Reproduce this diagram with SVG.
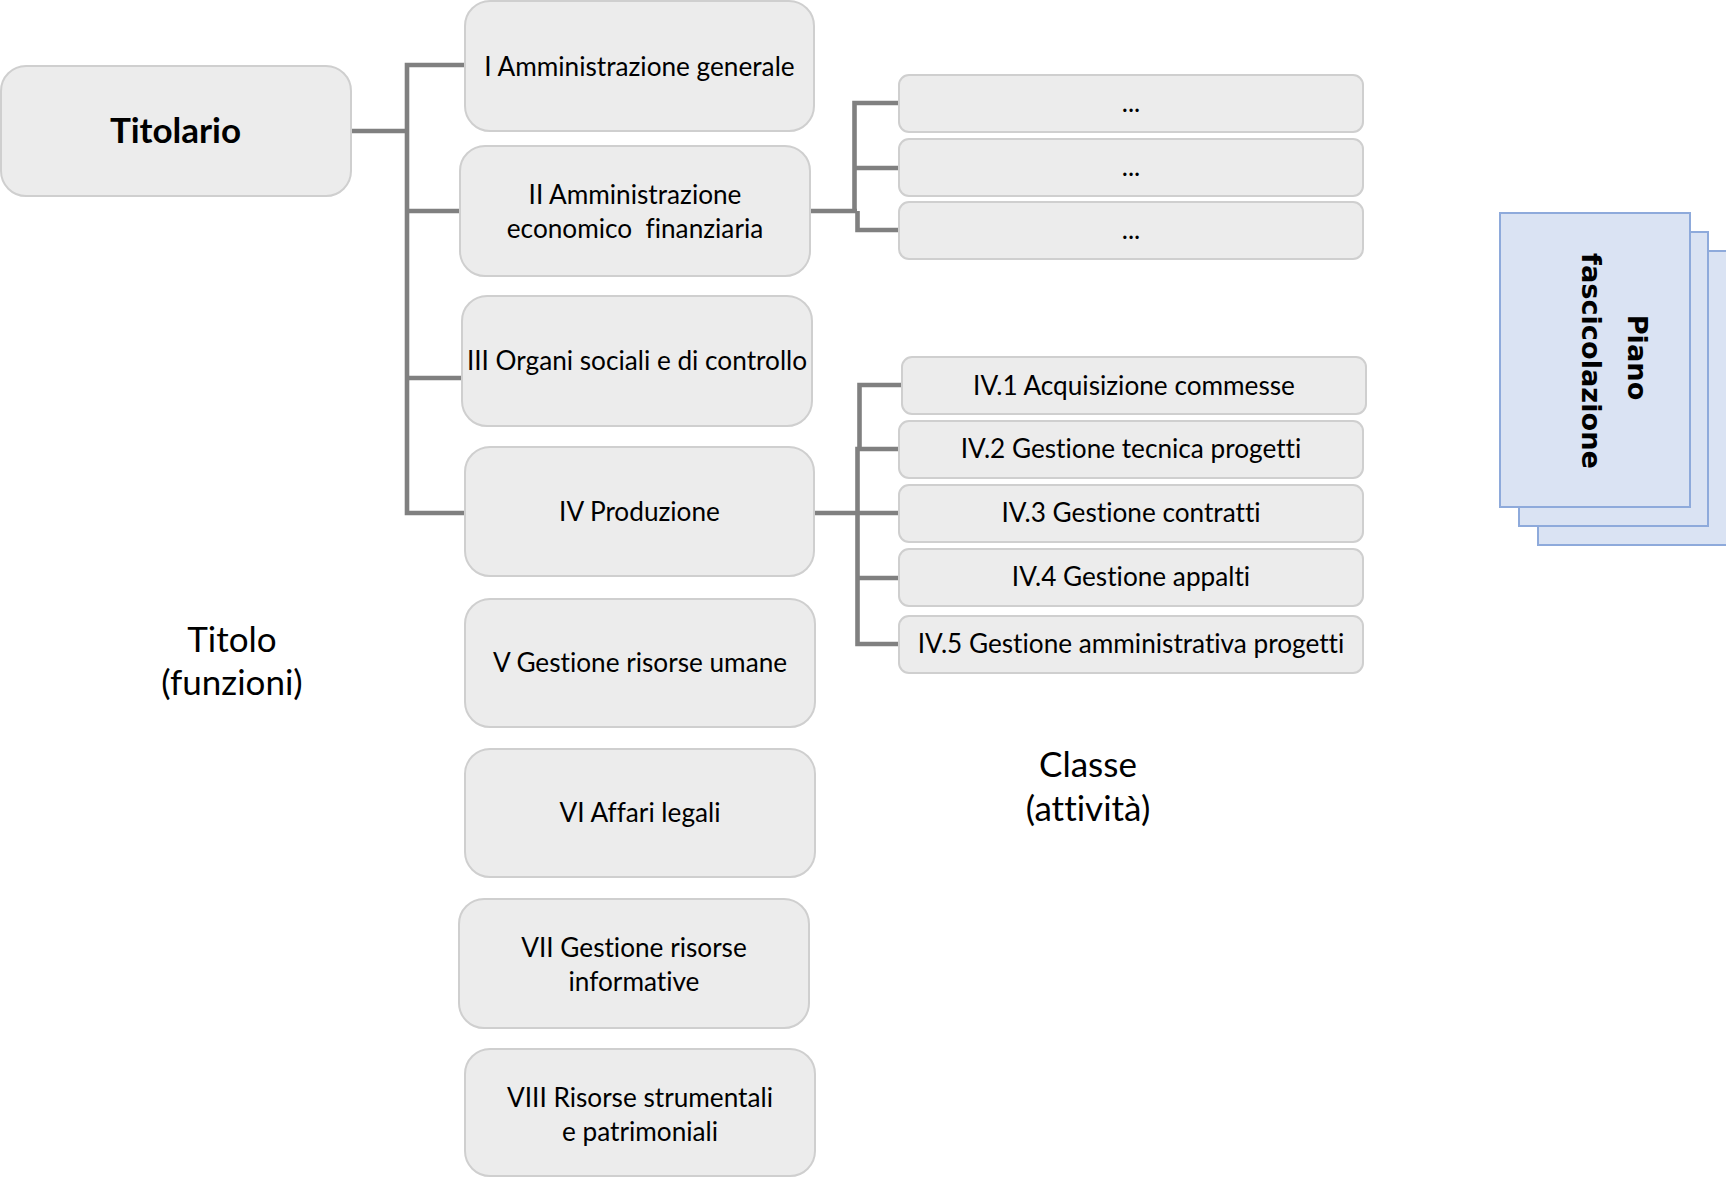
<svg xmlns="http://www.w3.org/2000/svg" width="1726" height="1177" viewBox="0 0 1726 1177">
<style>
text{font-variant-ligatures:none;font-feature-settings:"liga" 0,"clig" 0}
.box{fill:#ececec;stroke:#cfcfcf;stroke-width:2}
.t{font-family:Lato,"Open Sans","DejaVu Sans",sans-serif;font-size:26.2px;fill:#000;text-anchor:middle}
.big{font-family:Lato,"Open Sans","DejaVu Sans",sans-serif;font-size:35px;fill:#000;text-anchor:middle}
.bold{font-weight:bold}
.conn{fill:none;stroke:#808080;stroke-width:4.6}
.sheet{fill:#dae3f3;stroke:#8eaadb;stroke-width:2}
.pf{font-family:"DejaVu Sans",Verdana,sans-serif;font-size:27.2px;font-weight:bold;fill:#000;text-anchor:middle}
</style>
<rect width="1726" height="1177" fill="#fff"/>
<g id="connectors">
<path class="conn" d="M351,131 H407"/>
<path class="conn" d="M465,65 H407 V513 H465"/>
<path class="conn" d="M407,211 H460"/>
<path class="conn" d="M407,378 H462"/>
<path class="conn" d="M810,211 H857"/>
<path class="conn" d="M899,103 H854.5 V211"/>
<path class="conn" d="M854.5,168 H899"/>
<path class="conn" d="M857.5,211 V230 H899"/>
<path class="conn" d="M815,513 H858"/>
<path class="conn" d="M902,385 H859.5 V449"/>
<path class="conn" d="M899,449 H857.5 V644 H899"/>
<path class="conn" d="M857.5,513 H899"/>
<path class="conn" d="M857.5,578 H899"/>
</g>
<g id="titolario">
<rect class="box" x="1" y="66" width="350" height="130" rx="25"/>
<text class="big bold" x="175.5" y="143">Titolario</text>
</g>
<g id="t1">
<rect class="box" x="465" y="1" width="349" height="130" rx="25"/>
<text class="t" x="639.5" y="75.5">I Amministrazione generale</text>
</g>
<g id="t2">
<rect class="box" x="460" y="146" width="350" height="130" rx="25"/>
<text class="t" x="635" y="204">II Amministrazione</text>
<text class="t" x="635" y="238" xml:space="preserve">economico  finanziaria</text>
</g>
<g id="t3">
<rect class="box" x="462" y="296" width="350" height="130" rx="25"/>
<text class="t" x="637" y="370">III Organi sociali e di controllo</text>
</g>
<g id="t4">
<rect class="box" x="465" y="447" width="349" height="129" rx="25"/>
<text class="t" x="639.5" y="520.5">IV Produzione</text>
</g>
<g id="t5">
<rect class="box" x="465" y="599" width="350" height="128" rx="25"/>
<text class="t" x="640" y="672">V Gestione risorse umane</text>
</g>
<g id="t6">
<rect class="box" x="465" y="749" width="350" height="128" rx="25"/>
<text class="t" x="640" y="822">VI Affari legali</text>
</g>
<g id="t7">
<rect class="box" x="459" y="899" width="350" height="129" rx="25"/>
<text class="t" x="634" y="957">VII Gestione risorse</text>
<text class="t" x="634" y="991">informative</text>
</g>
<g id="t8">
<rect class="box" x="465" y="1049" width="350" height="127" rx="25"/>
<text class="t" x="640" y="1107">VIII Risorse strumentali</text>
<text class="t" x="640" y="1141">e patrimoniali</text>
</g>
<g id="c2a">
<rect class="box" x="899" y="75" width="464" height="57" rx="10"/>
<text class="t" x="1131" y="112">...</text>
</g>
<g id="c2b">
<rect class="box" x="899" y="139" width="464" height="57" rx="10"/>
<text class="t" x="1131" y="176">...</text>
</g>
<g id="c2c">
<rect class="box" x="899" y="202" width="464" height="57" rx="10"/>
<text class="t" x="1131" y="239">...</text>
</g>
<g id="c41">
<rect class="box" x="902" y="357" width="464" height="57" rx="10"/>
<text class="t" x="1134" y="395">IV.1 Acquisizione commesse</text>
</g>
<g id="c42">
<rect class="box" x="899" y="421" width="464" height="57" rx="10"/>
<text class="t" x="1131" y="458">IV.2 Gestione tecnica progetti</text>
</g>
<g id="c43">
<rect class="box" x="899" y="485" width="464" height="57" rx="10"/>
<text class="t" x="1131" y="522">IV.3 Gestione contratti</text>
</g>
<g id="c44">
<rect class="box" x="899" y="549" width="464" height="57" rx="10"/>
<text class="t" x="1131" y="586">IV.4 Gestione appalti</text>
</g>
<g id="c45">
<rect class="box" x="899" y="616" width="464" height="57" rx="10"/>
<text class="t" x="1131" y="653">IV.5 Gestione amministrativa progetti</text>
</g>
<g id="label-titolo">
<text class="big" x="232" y="652">Titolo</text>
<text class="big" x="232" y="695">(funzioni)</text>
</g>
<g id="label-classe">
<text class="big" x="1088" y="777">Classe</text>
<text class="big" x="1088" y="821">(attività)</text>
</g>
<g id="piano">
<rect class="sheet" x="1538" y="251" width="200" height="294"/>
<rect class="sheet" x="1519" y="232" width="189" height="294"/>
<rect class="sheet" x="1500" y="213" width="190" height="294"/>
<text class="pf" transform="translate(1628,357.5) rotate(90)">Piano</text>
<text class="pf" transform="translate(1582,361) rotate(90)">fascicolazione</text>
</g>
</svg>
